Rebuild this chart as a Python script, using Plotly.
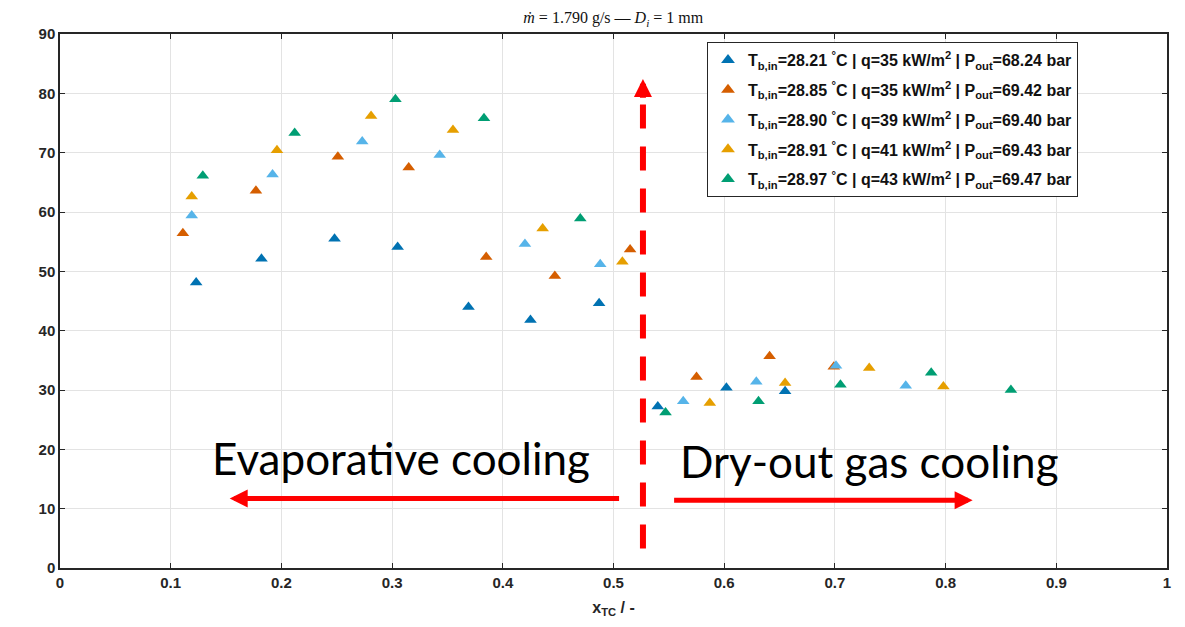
import plotly.graph_objects as go

# ---- data ----
names = [
    "T<sub>b,in</sub>=28.21 <sup>°</sup>C | q=35 kW/m<sup>2</sup> | P<sub>out</sub>=68.24 bar",
    "T<sub>b,in</sub>=28.85 <sup>°</sup>C | q=35 kW/m<sup>2</sup> | P<sub>out</sub>=69.42 bar",
    "T<sub>b,in</sub>=28.90 <sup>°</sup>C | q=39 kW/m<sup>2</sup> | P<sub>out</sub>=69.40 bar",
    "T<sub>b,in</sub>=28.91 <sup>°</sup>C | q=41 kW/m<sup>2</sup> | P<sub>out</sub>=69.43 bar",
    "T<sub>b,in</sub>=28.97 <sup>°</sup>C | q=43 kW/m<sup>2</sup> | P<sub>out</sub>=69.47 bar",
]
colors = ["#0072B2", "#D55E00", "#56B4E9", "#E69F00", "#009E73"]

x_s1 = [0.123, 0.182, 0.248, 0.305, 0.369, 0.425, 0.487, 0.540, 0.602, 0.655]
y_s1 = [48.1, 52.1, 55.5, 54.1, 44.0, 41.8, 44.6, 27.2, 30.4, 29.8]

x_s2 = [0.111, 0.177, 0.251, 0.315, 0.385, 0.447, 0.515, 0.575, 0.641, 0.699]
y_s2 = [56.4, 63.6, 69.3, 67.5, 52.4, 49.2, 53.7, 32.2, 35.7, 33.9]

x_s3 = [0.119, 0.192, 0.273, 0.343, 0.420, 0.488, 0.563, 0.629, 0.701, 0.764]
y_s3 = [59.4, 66.3, 71.9, 69.6, 54.6, 51.2, 28.1, 31.4, 34.1, 30.7]

x_s4 = [0.119, 0.196, 0.281, 0.355, 0.436, 0.508, 0.587, 0.655, 0.731, 0.798]
y_s4 = [62.6, 70.4, 76.2, 73.8, 57.2, 51.6, 27.8, 31.2, 33.7, 30.6]

x_s5 = [0.129, 0.212, 0.303, 0.383, 0.470, 0.547, 0.631, 0.705, 0.787, 0.859]
y_s5 = [66.1, 73.3, 79.0, 75.8, 58.9, 26.2, 28.1, 30.9, 32.9, 30.0]

xs = [x_s1, x_s2, x_s3, x_s4, x_s5]
ys = [y_s1, y_s2, y_s3, y_s4, y_s5]

x_ticks = [0, 0.1, 0.2, 0.3, 0.4, 0.5, 0.6, 0.7, 0.8, 0.9, 1]
x_ticklabels = ["0", "0.1", "0.2", "0.3", "0.4", "0.5", "0.6", "0.7", "0.8", "0.9", "1"]
y_ticks = [0, 10, 20, 30, 40, 50, 60, 70, 80, 90]

dryout_x = 0.5266

AX = "#262626"
FONT = "Liberation Sans, Arial, sans-serif"

fig = go.Figure()
for i, (xv, yv, nm, c) in enumerate(zip(xs, ys, names, colors)):
    fig.add_trace(go.Scatter(
        x=xv, y=yv, mode="markers", name=nm, legendgroup=f"g{i}",
        marker=dict(symbol="triangle-up", size=11, color=c, line=dict(width=0)),
    ))

axis_common = dict(
    showline=True, linecolor=AX, linewidth=1.5, mirror="allticks",
    ticks="inside", ticklen=5, tickcolor=AX, tickwidth=1,
    showgrid=True, gridcolor="#e3e3e3", gridwidth=1, zeroline=False,
    tickfont=dict(family=FONT, size=15, color=AX, weight="bold"),
)

fig.update_xaxes(range=[0, 1], tickvals=x_ticks, ticktext=x_ticklabels,
                 title=dict(text="x<sub>TC</sub> / -", standoff=12,
                            font=dict(family=FONT, size=16, color=AX, weight="bold")),
                 **axis_common)
fig.update_yaxes(range=[0, 90], tickvals=y_ticks, **axis_common)

# red dashed dry-out boundary line
fig.add_shape(type="line", xref="x", yref="y", x0=dryout_x, x1=dryout_x, y0=78.1, y1=3.3,
              line=dict(color="#FF0000", width=6, dash="24px,18px"))
# arrow head on top of dashed line
fig.add_annotation(x=dryout_x, y=82.4, ax=dryout_x, ay=79.0, xref="x", yref="y",
                   axref="x", ayref="y", text="", showarrow=True,
                   arrowhead=2, arrowsize=0.6, arrowwidth=6, arrowcolor="#FF0000")
# horizontal arrows
fig.add_annotation(x=0.1533, y=11.7, ax=0.5064, ay=11.7, xref="x", yref="y",
                   axref="x", ayref="y", text="", showarrow=True,
                   arrowhead=2, arrowsize=0.72, arrowwidth=5, arrowcolor="#FF0000")
fig.add_annotation(x=0.8244, y=11.4, ax=0.5534, ay=11.4, xref="x", yref="y",
                   axref="x", ayref="y", text="", showarrow=True,
                   arrowhead=2, arrowsize=0.72, arrowwidth=5, arrowcolor="#FF0000")
# region labels
fig.add_annotation(x=0.3083, y=18.6, xref="x", yref="y", text="Evaporative cooling",
                   showarrow=False, font=dict(family="Lato, sans-serif", size=44, color="black"))
fig.add_annotation(x=0.7316, y=18.1, xref="x", yref="y", text="Dry-out gas cooling",
                   showarrow=False, font=dict(family="Lato, sans-serif", size=44, color="black"))

fig.update_layout(
    width=1185, height=627,
    margin=dict(l=60, r=18, t=34, b=59),
    paper_bgcolor="white", plot_bgcolor="white",
    title=dict(text="<i>ṁ</i> = 1.790 g/s — <i>D<sub>i</sub></i> = 1 mm",
               x=0.5175, xanchor="center", y=0.972, yanchor="middle",
               font=dict(family="Liberation Serif, DejaVu Serif, serif", size=16, color="#111")),
    legend=dict(x=0.9196, xanchor="right", y=0.985, yanchor="top",
                bgcolor="white", bordercolor=AX, borderwidth=1,
                font=dict(family=FONT, size=16, color="#111", weight="bold"),
                tracegroupgap=6, itemsizing="constant"),
    showlegend=True,
)

fig.write_html("out.html")
